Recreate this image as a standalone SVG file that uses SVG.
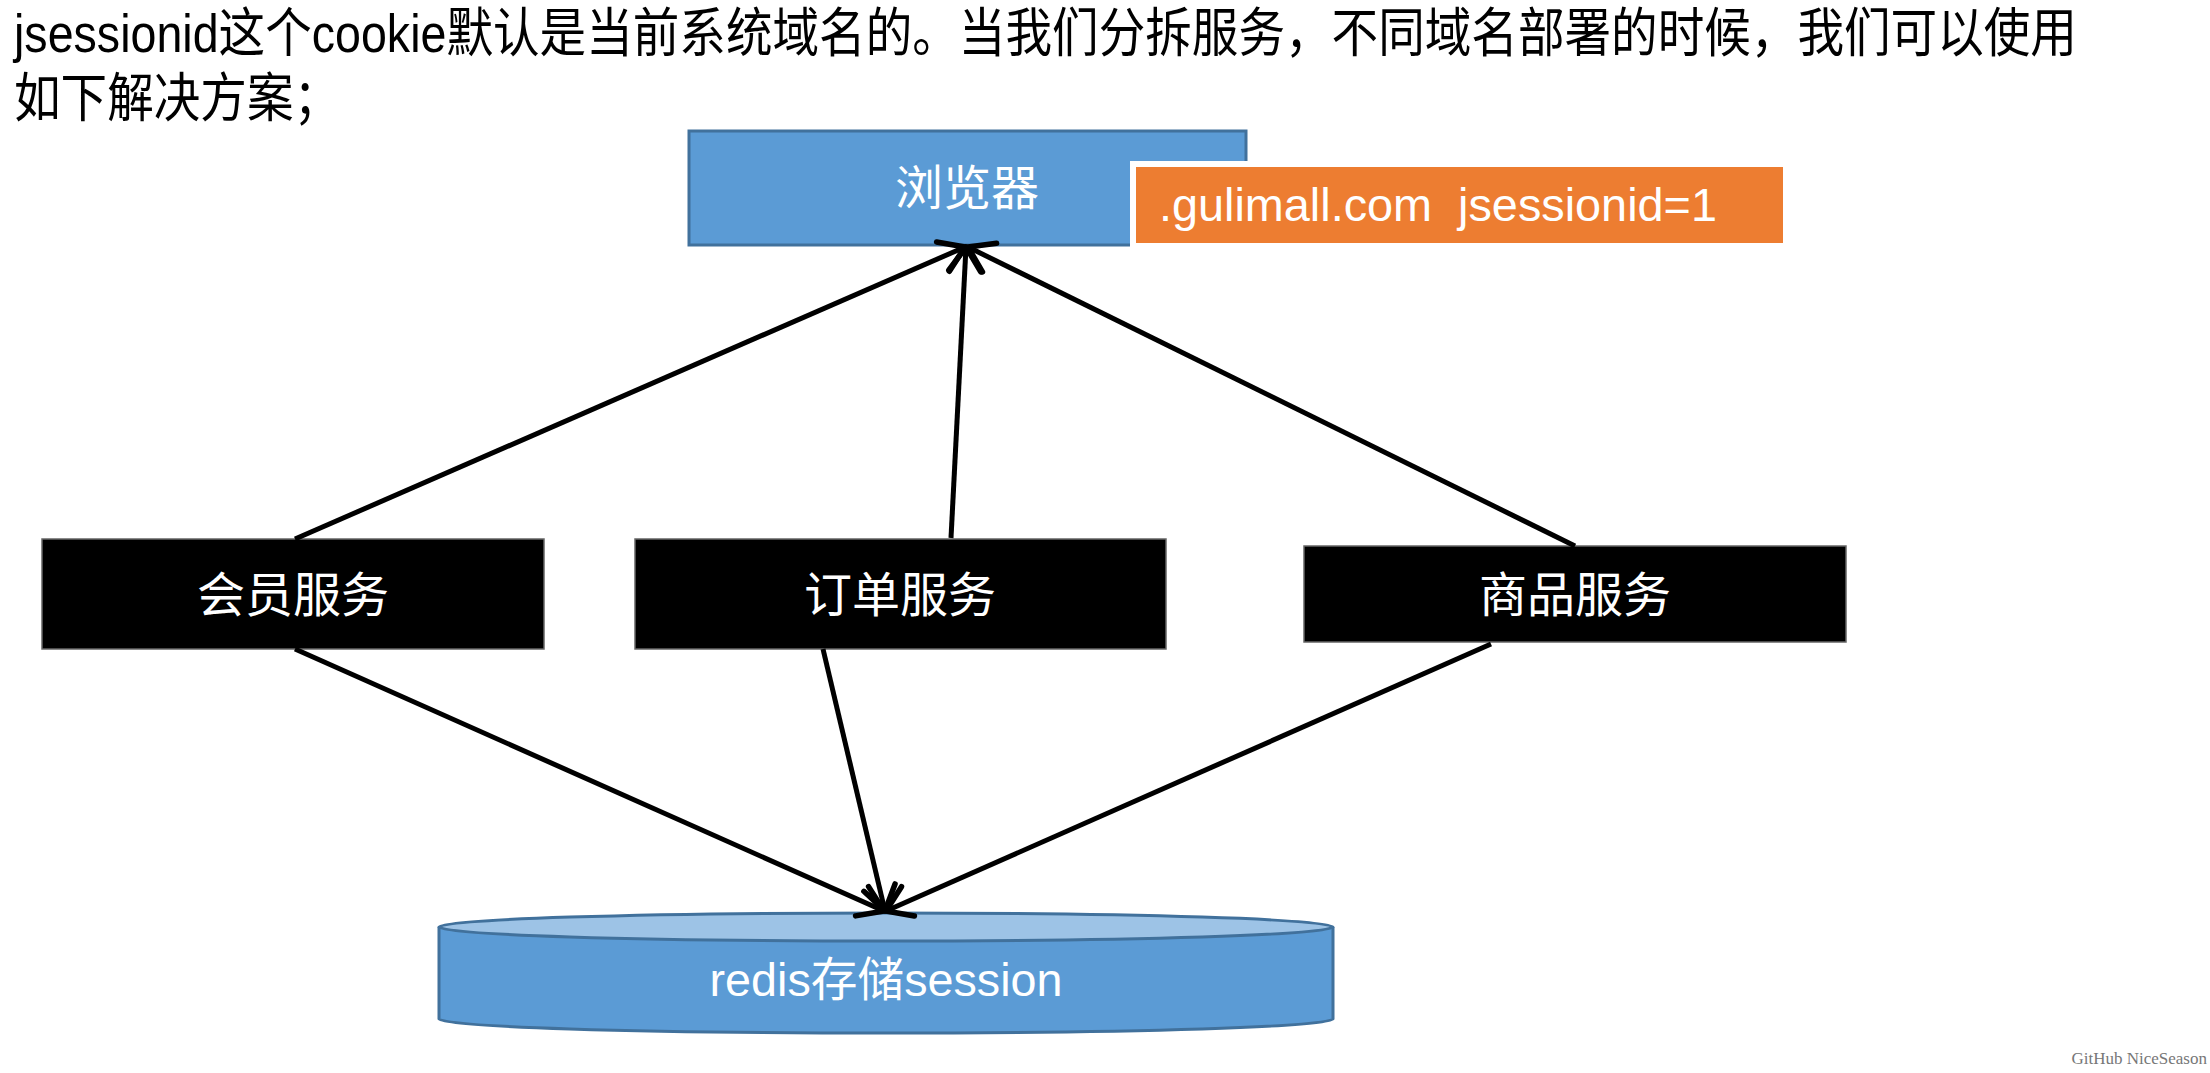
<svg xmlns="http://www.w3.org/2000/svg" width="2210" height="1073" viewBox="0 0 2210 1073">
<style>
.title{font-family:"Liberation Sans","Noto Sans CJK SC",sans-serif;font-size:46.6px;fill:#000}
.lbl{font-family:"Liberation Sans","Noto Sans CJK SC",sans-serif;font-size:48px;fill:#fff;text-anchor:middle}
.svc{fill:#000;stroke:#666;stroke-width:1.5}
.conn{stroke:#000;stroke-width:5;fill:none;marker-end:url(#arr)}
</style>
<defs>
<marker id="arr" markerUnits="userSpaceOnUse" viewBox="-34 -22 44 44" markerWidth="44" markerHeight="44" refX="0" refY="0" orient="auto">
<path d="M-24,-16 L0,0 L-24,16" fill="none" stroke="#000" stroke-width="5.5" stroke-linecap="round" stroke-linejoin="round"/>
</marker>
</defs>
<rect x="0" y="0" width="2210" height="1073" fill="#fff"/>
<g id="title" transform="scale(1,1.15)">
<text class="title" x="14" y="45.2">jsessionid这个cookie默认是当前系统域名的。当我们分拆服务，不同域名部署的时候，我们可以使用</text>
<text class="title" x="14" y="101.7">如下解决方案；</text>
</g>
<g id="browser">
<rect x="689" y="131" width="557" height="114" fill="#5B9BD5" stroke="#41719C" stroke-width="3"/>
<text class="lbl" x="967" y="205">浏览器</text>
</g>
<g id="cookie">
<rect x="1130" y="161" width="659" height="88" fill="#fff"/>
<rect x="1136" y="167" width="647" height="76" fill="#ED7D31"/>
<text x="1159" y="221" font-family="Liberation Sans, sans-serif" font-size="46.8" fill="#fff" xml:space="preserve">.gulimall.com  jsessionid=1</text>
</g>
<g id="member">
<rect class="svc" x="42" y="539" width="502" height="110"/>
<text class="lbl" x="293" y="612">会员服务</text>
</g>
<g id="order">
<rect class="svc" x="635" y="539" width="531" height="110"/>
<text class="lbl" x="900" y="612">订单服务</text>
</g>
<g id="product">
<rect class="svc" x="1304" y="546" width="542" height="96"/>
<text class="lbl" x="1575" y="612">商品服务</text>
</g>
<g id="redis">
<path d="M439,927 L439,1019 A447,14 0 0 0 1333,1019 L1333,927" fill="#5B9BD5" stroke="#41719C" stroke-width="3"/>
<ellipse cx="886" cy="927" rx="447" ry="14" fill="#9DC3E6" stroke="#41719C" stroke-width="3"/>
<text class="lbl" x="886" y="996" style="font-size:46.7px">redis存储session</text>
</g>
<g id="connectors">
<line class="conn" x1="295" y1="539" x2="965" y2="247"/>
<line class="conn" x1="951" y1="538" x2="966" y2="247"/>
<line class="conn" x1="1575" y1="546" x2="968" y2="247"/>
<line class="conn" x1="295" y1="649" x2="884" y2="911"/>
<line class="conn" x1="823" y1="649" x2="885" y2="911"/>
<line class="conn" x1="1491" y1="644" x2="886" y2="911"/>
</g>
<text x="2207" y="1064" font-family="Liberation Serif, serif" font-size="17" fill="#777" text-anchor="end">GitHub NiceSeason</text>
</svg>
